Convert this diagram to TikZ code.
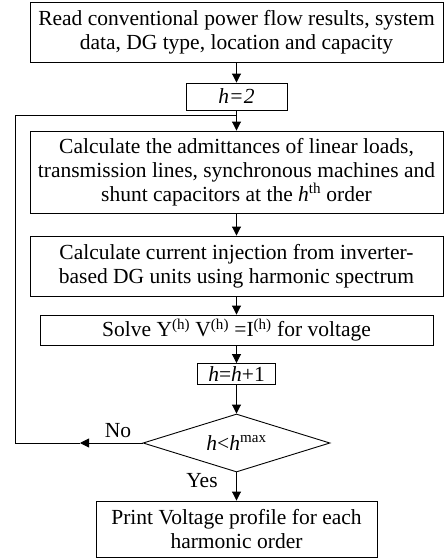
\documentclass[tikz,border=0pt]{standalone}
\usepackage{fontspec}
\setmainfont{Liberation Serif}
\usetikzlibrary{arrows.meta,shapes.geometric}
\tikzset{
	stepbox/.style={draw, line width=0.9pt, inner sep=0pt, align=center, font=\rmfamily\fontsize{21.5}{24}\selectfont},
	flow/.style={line width=0.9pt, -{Triangle[length=9pt,width=9pt]}},
	plain/.style={line width=0.9pt}
}

\begin{document}
\begin{tikzpicture}[x=1pt, y=-1pt]
		%%%%% START %%%%%
		\useasboundingbox (0, 0) rectangle (446, 560);
		
		\node[stepbox, minimum width=413pt, minimum height=60pt] (read) at (236.5, 32) {Read conventional power flow results, system\\ data, DG type, location and capacity};
		\node[stepbox, minimum width=101pt, minimum height=27pt] (init) at (236.5, 96.5) {\textit{h=2}};
		
		\node[stepbox, minimum width=413pt, minimum height=82pt] (adm) at (236.5, 172) {Calculate the admittances of linear loads,\\ transmission lines, synchronous machines and\\ shunt capacitors at the \textit{h}\textsuperscript{th} order};
		\node[stepbox, minimum width=413pt, minimum height=60pt] (inj) at (236.5, 266) {Calculate current injection from inverter-\\ based DG units using harmonic spectrum};
		\node[stepbox, minimum width=393pt, minimum height=30pt] (solve) at (236.5, 330) {Solve Y\textsuperscript{(h)} V\textsuperscript{(h)} =I\textsuperscript{(h)} for voltage};
		\node[stepbox, minimum width=78pt, minimum height=21pt] (incr) at (236.5, 374) {\textit{h}=\textit{h}+1};
		
		\node[stepbox, shape=diamond, aspect=3.2, minimum width=187pt, minimum height=58pt] (check) at (236.5, 443) {\textit{h}<\textit{h}\textsuperscript{max}};
		\node[stepbox, minimum width=281pt, minimum height=56pt] (print) at (236.5, 529) {Print Voltage profile for each\\ harmonic order};
		
		% loop back
		\coordinate (noarr) at (80, 443);
		\coordinate (back) at (15, 443);
		\coordinate (join) at (236.5, 115);
		
		\draw[flow] (read) -- (init);
		\draw[flow] (init) -- (adm);
		\draw[flow] (adm) -- (inj);
		\draw[flow] (inj) -- (solve);
		\draw[flow] (solve) -- (incr);
		\draw[flow] (incr) -- (check);
		\draw[flow] (check) -- (print);
		
		\draw[flow] (check.west) -- (noarr);
		\draw[plain] (noarr) -- (back) |- (join);
		
		\node[font=\rmfamily\fontsize{21.5}{24}\selectfont] (no) at (118, 431) {No};
		\node[font=\rmfamily\fontsize{21.5}{24}\selectfont] (yes) at (202, 481) {Yes};
		
		%%%%% END %%%%%
	\end{tikzpicture}
\end{document}
